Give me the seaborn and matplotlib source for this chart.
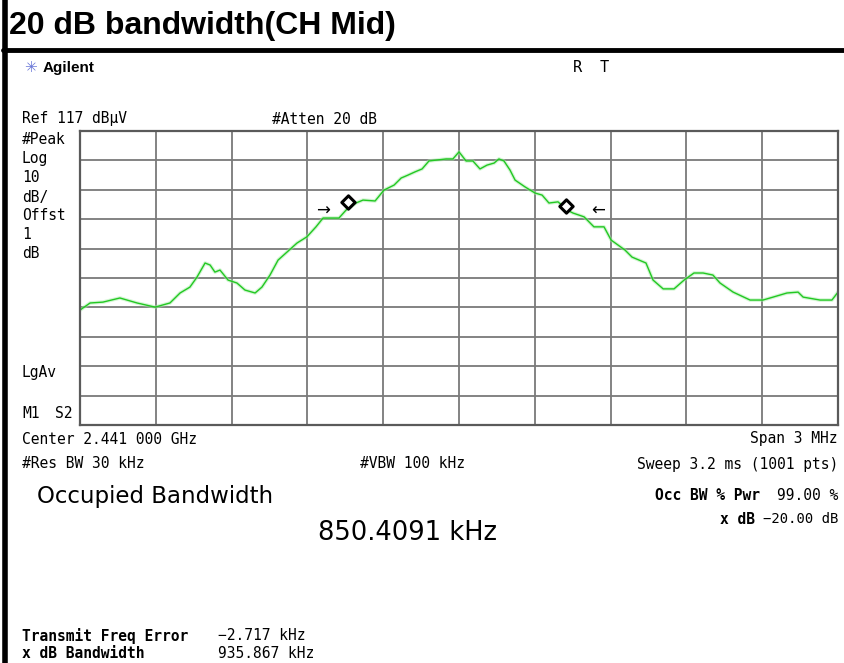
import matplotlib
matplotlib.use("Agg")
import matplotlib.pyplot as plt
import numpy as np
import pandas as pd
import seaborn as sns

# trace: offset from 2.441 GHz (MHz) and level (dBuV)
freq_mhz = [
    -1.500, -1.460, -1.409, -1.342, -1.274, -1.203, -1.144, -1.104, -1.065,
    -1.037, -1.005, -0.985, -0.966, -0.946, -0.914, -0.879, -0.847, -0.807,
    -0.780, -0.748, -0.716, -0.681, -0.641, -0.602, -0.566, -0.538, -0.475,
    -0.447, -0.408, -0.380, -0.332, -0.297, -0.257, -0.229, -0.202, -0.174,
    -0.146, -0.119, -0.051, -0.024, 0.000, 0.028, 0.055, 0.083, 0.111, 0.139,
    0.158, 0.178, 0.202, 0.222, 0.261, 0.301, 0.329, 0.356, 0.392, 0.428,
    0.451, 0.495, 0.534, 0.574, 0.602, 0.657, 0.685, 0.740, 0.768, 0.808,
    0.851, 0.891, 0.930, 0.966, 1.005, 1.033, 1.085, 1.152, 1.203, 1.243,
    1.298, 1.342, 1.362, 1.429, 1.476, 1.500,
]
level_dbuv = [
    56.1, 58.5, 58.8, 60.2, 58.5, 57.1, 58.5, 61.9, 63.9,
    67.3, 72.1, 71.4, 69.0, 69.7, 66.3, 65.3, 62.9, 61.9,
    63.9, 68.0, 73.1, 75.8, 78.9, 81.0, 84.4, 87.4, 87.4,
    90.1, 92.5, 93.5, 93.2, 96.9, 98.6, 101.0, 102.0, 103.1,
    104.1, 106.8, 107.5, 107.5, 109.9, 106.8, 106.8, 104.1, 105.4, 106.1,
    107.5, 106.8, 103.7, 100.3, 98.0, 95.9, 95.2, 92.5, 92.9, 90.1,
    89.1, 87.8, 84.4, 84.4, 79.9, 76.5, 74.1, 72.1, 66.3, 63.3,
    63.3, 66.3, 68.7, 68.7, 68.0, 65.3, 62.2, 59.5, 59.5, 60.5,
    61.9, 62.2, 60.5, 59.5, 59.5, 62.2,
]
marker_freq = [-0.439, 0.424]
marker_level = [92.9, 91.5]
arrow_freq = [-0.538, 0.550]
arrow_level = [89.8, 89.8]
arrow_text = ["\u2192", "\u2190"]

ref_level = 117
db_per_div = 10
span_mhz = 3

W, H = 845, 663
sns.set_style("white")
plt.rcParams["font.family"] = ["DejaVu Sans Mono", "DejaVu Sans"]
plt.rcParams["text.color"] = "black"


def px(x, y):
    return x / W, 1 - y / H


fig = plt.figure(figsize=(W / 100, H / 100), dpi=100)
fig.patch.set_facecolor("white")

# grid area
gx0, gy0, gx1, gy1 = 80, 131, 838, 425
ax = fig.add_axes([gx0 / W, 1 - gy1 / H, (gx1 - gx0) / W, (gy1 - gy0) / H])
trace = pd.DataFrame({"freq": freq_mhz, "level": level_dbuv})
sns.lineplot(data=trace, x="freq", y="level", ax=ax, color="#a8eca8",
             linewidth=2.6, alpha=0.5, estimator=None, sort=False)
sns.lineplot(data=trace, x="freq", y="level", ax=ax, color="#22c822",
             linewidth=1.0, estimator=None, sort=False)
sns.scatterplot(x=marker_freq, y=marker_level, ax=ax, marker="D", s=46,
                facecolor="white", edgecolor="black", linewidth=2.2, zorder=5)
for f, lv, t in zip(arrow_freq, arrow_level, arrow_text):
    ax.text(f, lv, t, ha="center", va="center", fontsize=12,
            family="DejaVu Sans", color="black")

ax.set_xlim(-span_mhz / 2, span_mhz / 2)
ax.set_ylim(ref_level - 10 * db_per_div, ref_level)
ax.set_xticks(np.linspace(-span_mhz / 2, span_mhz / 2, 11))
ax.set_yticks(np.linspace(ref_level - 10 * db_per_div, ref_level, 11))
ax.grid(True, color="#7a7a7a", linewidth=1.3)
ax.tick_params(length=0, labelbottom=False, labelleft=False)
ax.set_xlabel("")
ax.set_ylabel("")
for sp in ax.spines.values():
    sp.set_color("#5a5a5a")
    sp.set_linewidth(1.6)

# frame
fig.add_artist(plt.Line2D([5 / W, 5 / W], [0, 1], color="black", linewidth=4))
fig.add_artist(plt.Line2D([3 / W, 1], [1 - 50 / H, 1 - 50 / H],
                          color="black", linewidth=3.5))
fig.text(*px(9, 26), "20 dB bandwidth(CH Mid)", family="Liberation Sans",
         fontsize=23, fontweight="bold", va="center", ha="left")

# header
fig.text(*px(31, 68), "\u2733", family="DejaVu Sans", fontsize=11,
         color="#6a78d8", va="center", ha="center")
fig.text(*px(43, 68), "Agilent", family="Liberation Sans", fontsize=11,
         fontweight="bold", va="center", ha="left")
fig.text(*px(573, 67), "R", fontsize=11, va="center", ha="left")
fig.text(*px(600, 67), "T", fontsize=11, va="center", ha="left")
fig.text(*px(22, 119), "Ref 117 dB\u00b5V", fontsize=10.5, va="center")
fig.text(*px(272, 119), "#Atten 20 dB", fontsize=10.5, va="center")

side = [("#Peak", 139), ("Log", 159), ("10", 178), ("dB/", 197),
        ("Offst", 215), ("1", 234), ("dB", 253), ("LgAv", 372)]
for s, y in side:
    fig.text(*px(22, y), s, fontsize=10.5, va="center")
fig.text(*px(22, 413), "M1", fontsize=10.5, va="center")
fig.text(*px(55, 413), "S2", fontsize=10.5, va="center")

# footer
fig.text(*px(22, 439), "Center 2.441 000 GHz", fontsize=10.5, va="center")
fig.text(*px(838, 439), "Span 3 MHz", fontsize=10.5, va="center", ha="right")
fig.text(*px(22, 464), "#Res BW 30 kHz", fontsize=10.5, va="center")
fig.text(*px(360, 464), "#VBW 100 kHz", fontsize=10.5, va="center")
fig.text(*px(838, 464), "Sweep 3.2 ms (1001 pts)", fontsize=10.5,
         va="center", ha="right")

fig.text(*px(37, 496), "Occupied Bandwidth", family="DejaVu Sans",
         fontsize=16.5, va="center")
fig.text(*px(318, 533), "850.4091 kHz", family="DejaVu Sans",
         fontsize=18.5, va="center")
fig.text(*px(760, 496), "Occ BW % Pwr", fontsize=10.5, fontweight="bold",
         va="center", ha="right")
fig.text(*px(838, 496), "99.00 %", fontsize=10.5, va="center", ha="right")
fig.text(*px(755, 519), "x dB", fontsize=10.5, fontweight="bold",
         va="center", ha="right")
fig.text(*px(838, 519), "\u221220.00 dB", fontsize=10, va="center",
         ha="right")

fig.text(*px(22, 636), "Transmit Freq Error", fontsize=10.5,
         fontweight="bold", va="center")
fig.text(*px(218, 636), "\u22122.717 kHz", fontsize=10.5, va="center")
fig.text(*px(22, 654), "x dB Bandwidth", fontsize=10.5, fontweight="bold",
         va="center")
fig.text(*px(218, 654), "935.867 kHz", fontsize=10.5, va="center")

fig.savefig("out.png", dpi=100)
